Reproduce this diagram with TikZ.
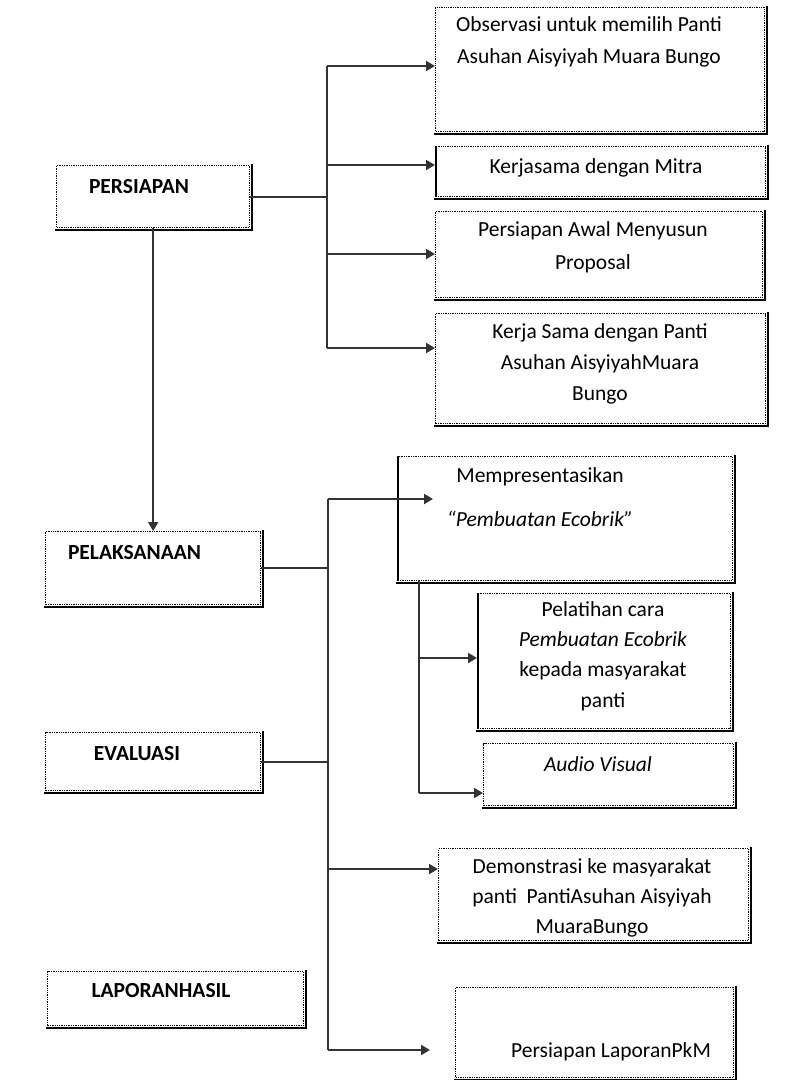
\documentclass[tikz,border=0pt]{standalone}
\usepackage{fontspec}
\setmainfont{Carlito}
\usetikzlibrary{arrows.meta}
\begin{document}
\begin{tikzpicture}[x=1pt,y=-1pt,
  box/.style={draw=black, line width=1.3pt, dash pattern=on 1.3pt off 1pt, inner sep=0pt, anchor=north west},
  shadowline/.style={draw=black, line width=1.6pt},
  txt/.style={inner sep=0pt, anchor=north, align=center, font=\fontsize{21.5}{31}\selectfont},
  btxt/.style={txt, font=\fontsize{21.5}{31}\selectfont\bfseries},
  conn/.style={draw=black!80, line width=2pt},
  arr/.style={conn, -{Triangle[length=9pt,width=10pt]}}]
\useasboundingbox[fill=white] (0,0) rectangle (800,1080);

% boxes
\node[box, minimum width=193pt, minimum height=62pt] (persiapan) at (56,165) {};
\node[box, minimum width=215pt, minimum height=73pt] (pelaksanaan) at (45,531) {};
\node[box, minimum width=215pt, minimum height=58pt] (evaluasi) at (45,732) {};
\node[box, minimum width=256pt, minimum height=54pt] (laporan) at (47,971) {};
\node[box, minimum width=329pt, minimum height=124pt] (obs) at (435,7) {};
\node[box, minimum width=330pt, minimum height=50pt] (mitra) at (435,146) {};
\node[box, minimum width=327pt, minimum height=86pt] (proposal) at (435,211) {};
\node[box, minimum width=330pt, minimum height=110pt] (kerjasama) at (435,313) {};
\node[box, minimum width=335pt, minimum height=124pt] (presentasi) at (397,456) {};
\node[box, minimum width=253pt, minimum height=135pt] (pelatihan) at (477,593) {};
\node[box, minimum width=250pt, minimum height=62pt] (audio) at (483,743) {};
\node[box, minimum width=310pt, minimum height=92pt] (demo) at (438,848) {};
\node[box, minimum width=278pt, minimum height=90pt] (pkm) at (455,987) {};

% shadow edges (right and bottom)
\foreach \n in {persiapan,pelaksanaan,evaluasi,laporan,obs,mitra,proposal,kerjasama,presentasi,pelatihan,audio,demo,pkm}
  \draw[shadowline] ([xshift=1.4pt,yshift=1pt]\n.north east) -- ([xshift=1.4pt,yshift=-1.4pt]\n.south east) -- ([xshift=-1pt,yshift=-1.4pt]\n.south west);
\foreach \n in {mitra,presentasi,pelatihan}
  \draw[shadowline] ([xshift=1.2pt]\n.north west) -- ([xshift=1.2pt]\n.south west);

% texts
\node[btxt] (tpersiapan) at (139,179) {PERSIAPAN};
\node[btxt] (tpelaksanaan) at (134.5,545) {PELAKSANAAN};
\node[btxt] (tevaluasi) at (137,746) {EVALUASI};
\node[btxt] (tlaporan) at (161,983) {LAPORANHASIL};
\node[txt, font=\fontsize{21.5}{32}\selectfont] (tobs) at (589,16) {Observasi untuk memilih Panti\\Asuhan Aisyiyah Muara Bungo};
\node[txt] (tmitra) at (596,158) {Kerjasama dengan Mitra};
\node[txt, font=\fontsize{21.5}{33}\selectfont] (tproposal) at (593,221) {Persiapan Awal Menyusun\\Proposal};
\node[txt, font=\fontsize{21.5}{31}\selectfont] (tkerjasama) at (600,323) {Kerja Sama dengan Panti\\Asuhan AisyiyahMuara\\Bungo};
\node[txt, font=\fontsize{21.5}{44}\selectfont] (tpresentasi) at (540,467) {Mempresentasikan\\\textit{\char"201C Pembuatan Ecobrik\char"201D}};
\node[txt, font=\fontsize{21.5}{30.3}\selectfont] (tpelatihan) at (603,601) {Pelatihan cara\\\textit{Pembuatan Ecobrik}\\kepada masyarakat\\panti};
\node[txt] (taudio) at (598,756) {\textit{Audio Visual}};
\node[txt, font=\fontsize{21.5}{30}\selectfont] (tdemo) at (592,858) {Demonstrasi ke masyarakat\\panti\ \ PantiAsuhan Aisyiyah\\MuaraBungo};
\node[txt] (tpkm) at (611,1042) {Persiapan LaporanPkM};

% connectors: persiapan branch
\coordinate (a1) at (327,66);
\coordinate (a2) at (327,165);
\coordinate (a3) at (327,254);
\coordinate (a4) at (327,348);
\draw[conn] (a1) -- (a4);
\draw[conn] (persiapan.east) -- (persiapan.east -| a1);
\draw[arr] (a1) -- (a1 -| obs.west);
\draw[arr] (a2) -- (a2 -| mitra.west);
\draw[arr] (a3) -- (a3 -| proposal.west);
\draw[arr] (a4) -- (a4 -| kerjasama.west);
\draw[arr] (persiapan.south) -- (persiapan.south |- pelaksanaan.north);

% connectors: pelaksanaan / evaluasi branch
\coordinate (b1) at (328,499);
\coordinate (b1end) at (433,499);
\coordinate (b2) at (328,869);
\coordinate (b3) at (328,1050);
\coordinate (b3end) at (430,1050);
\draw[conn] (b1) -- (b3);
\draw[conn] (pelaksanaan.east) -- (pelaksanaan.east -| b1);
\draw[conn] (evaluasi.east) -- (evaluasi.east -| b1);
\draw[arr] (b1) -- (b1end);
\draw[arr] (b2) -- (b2 -| demo.west);
\draw[arr] (b3) -- (b3end);

% sub branch under presentasi
\coordinate (c0) at (419,580);
\coordinate (c1) at (419,658);
\coordinate (c2) at (419,793);
\draw[conn] (c0) -- (c2);
\draw[arr] (c1) -- (c1 -| pelatihan.west);
\draw[arr] (c2) -- (c2 -| audio.west);
\end{tikzpicture}
\end{document}
